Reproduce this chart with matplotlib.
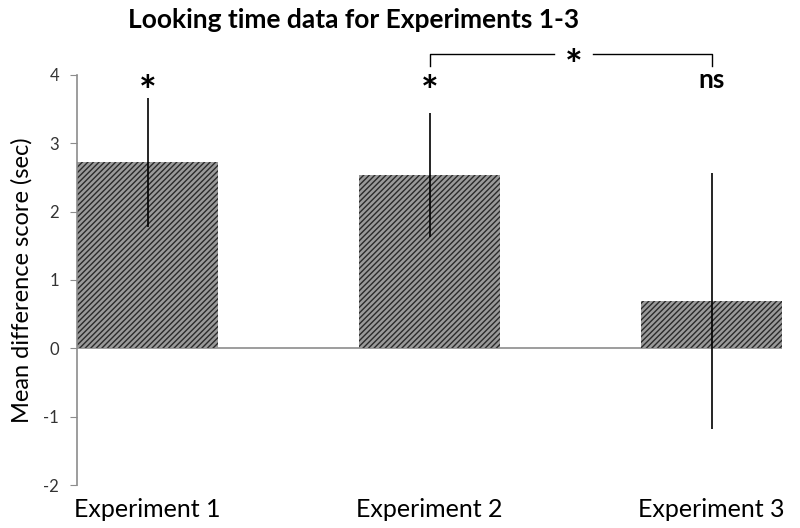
import matplotlib.pyplot as plt
import numpy as np

plt.rcParams['font.family'] = ['Lato', 'DejaVu Sans']
plt.rcParams['hatch.linewidth'] = 1.0
plt.rcParams['axes.unicode_minus'] = False

labels = ['Experiment 1', 'Experiment 2', 'Experiment 3']
means = [2.72, 2.54, 0.69]
errs = [0.95, 0.91, 1.87]
marks = ['*', '*', 'ns']

x = np.arange(len(labels))

fig = plt.figure(figsize=(8, 5.28), dpi=100)
ax = fig.add_axes([0.09625, 0.0814, 0.88125, 0.7766])

ax.bar(x, means, width=0.5, color='#9a9a9a', edgecolor='#2a2a2a',
       hatch='//////', linewidth=0, zorder=2)
ax.errorbar(x, means, yerr=errs, fmt='none', ecolor='black', elinewidth=1.2,
            capsize=0, zorder=3)
ax.axhline(0, color='#8c8c8c', lw=1.2, zorder=1)

ax.set_xlim(-0.25, 2.25)
ax.set_ylim(-2, 4)
ax.set_yticks(range(-2, 5))
ax.tick_params(axis='y', direction='out', length=5, color='#8c8c8c',
               labelsize=12, labelcolor='#333333', pad=8)
ax.set_xticks(x)
ax.set_xticklabels(labels, fontsize=18)
ax.tick_params(axis='x', length=0, pad=9)
for s in ['top', 'right', 'bottom']:
    ax.spines[s].set_visible(False)
ax.spines['left'].set_color('#8c8c8c')
ax.spines['left'].set_linewidth(1.2)
ax.set_ylabel('Mean difference score (sec)', fontsize=17, labelpad=8)

# significance marks
ax.text(0, 3.72, marks[0], ha='center', va='center', fontsize=30, fontweight='bold')
ax.text(1, 3.72, marks[1], ha='center', va='center', fontsize=30, fontweight='bold')
ax.text(2, 3.93, marks[2], ha='center', va='center', fontsize=19, fontweight='bold')

# bracket between experiments 2 and 3
yb = 4.3
ax.plot([1, 1, 1.44], [yb - 0.17, yb, yb], color='black', lw=1, clip_on=False)
ax.plot([1.58, 2, 2], [yb, yb, yb - 0.17], color='black', lw=1, clip_on=False)
ax.text(1.51, yb - 0.2, '*', ha='center', va='center', fontsize=30,
        fontweight='bold', clip_on=False)

fig.text(0.4425, 0.962, 'Looking time data for Experiments 1-3', ha='center',
         va='center', fontsize=19, fontweight='bold')

fig.savefig('out.png', dpi=100)
